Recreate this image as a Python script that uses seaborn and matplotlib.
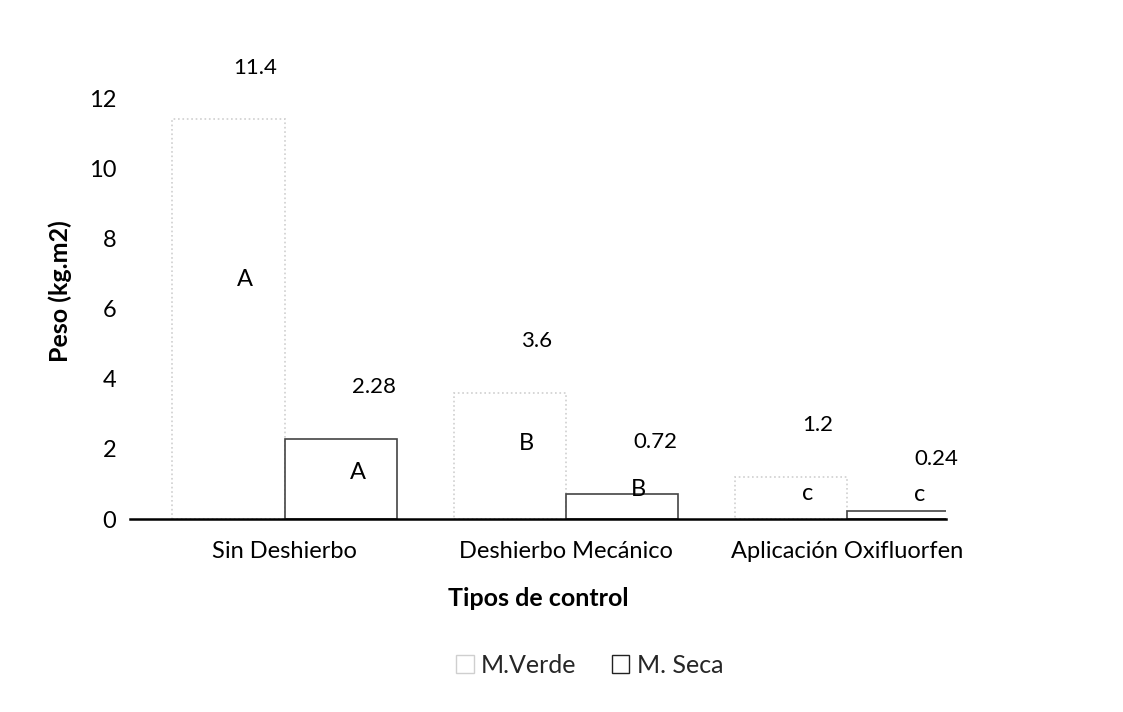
import numpy as np
import pandas as pd
import matplotlib.pyplot as plt
import seaborn as sns

categorias = ['Sin Deshierbo', 'Deshierbo Mecánico', 'Aplicación Oxifluorfen']
m_verde = [11.4, 3.6, 1.2]
m_seca = [2.28, 0.72, 0.24]
letras_verde = ['A', 'B', 'c']
letras_seca = ['A', 'B', 'c']
series = ['M.Verde', 'M. Seca']

df = pd.DataFrame({
    'Tipo': categorias * 2,
    'Peso': m_verde + m_seca,
    'Materia': [series[0]] * 3 + [series[1]] * 3,
})

sns.set_theme(style='white')
plt.rcParams['font.family'] = ['Lato', 'DejaVu Sans']

fig = plt.figure(figsize=(11.23, 7.12), dpi=100)
ax = fig.add_axes([0.116, 0.271, 0.726, 0.64])

sns.barplot(data=df, x='Tipo', y='Peso', hue='Materia', hue_order=series,
            palette=['white', 'white'], width=0.8, ax=ax, legend=True)

# bordes tenues como en el escaneo
estilos = [('#cfcfcf', ':'), ('#444444', '-')]
for cont, (col, ls) in zip(ax.containers, estilos):
    for p in cont.patches:
        p.set_edgecolor(col)
        p.set_linestyle(ls)
        p.set_linewidth(1.2)

# etiquetas de valor y letras
params = [(19, 0.6, 0), (24, 0.3, 16)]
for cont, vals, letras, (dx, frac, dy) in zip(ax.containers, [m_verde, m_seca],
                                              [letras_verde, letras_seca], params):
    for p, v, l in zip(cont.patches, vals, letras):
        xc = p.get_x() + p.get_width() / 2
        ax.annotate(f'{v:g}', (xc, v), xytext=(dx, 30), textcoords='offset points',
                    ha='center', va='bottom', fontsize=16, color='black')
        ax.annotate(l, (xc, v * frac), xytext=(12, dy), textcoords='offset points',
                    ha='center', va='center', fontsize=17, color='black')

ax.set_xlim(-0.55, 2.35)
ax.set_ylim(0, 13)
ax.set_yticks(np.arange(0, 13, 2))
ax.tick_params(axis='x', length=0, pad=16, labelsize=17)
ax.tick_params(axis='y', length=0, pad=10, labelsize=17)
for lab in ax.get_yticklabels() + ax.get_xticklabels():
    lab.set_color('black')

sns.despine(ax=ax, left=True)
ax.spines['bottom'].set_color('black')
ax.spines['bottom'].set_linewidth(1.8)

ax.set_xlabel('Tipos de control', fontsize=18, fontweight='bold', labelpad=18, color='black')
ax.set_ylabel('Peso (kg.m2)', fontsize=18, fontweight='bold', labelpad=12, color='black')

handles, labels = ax.get_legend_handles_labels()
ax.get_legend().remove()
handles[0].set_edgecolor('#cfcfcf')
handles[1].set_edgecolor('#222222')
fig.legend(handles, labels, loc='center', bbox_to_anchor=(0.525, 0.066), ncol=2,
           frameon=False, fontsize=18, handlelength=0.7, handleheight=0.7,
           columnspacing=1.4, handletextpad=0.3)

fig.savefig('out.png', dpi=100, facecolor='white')
